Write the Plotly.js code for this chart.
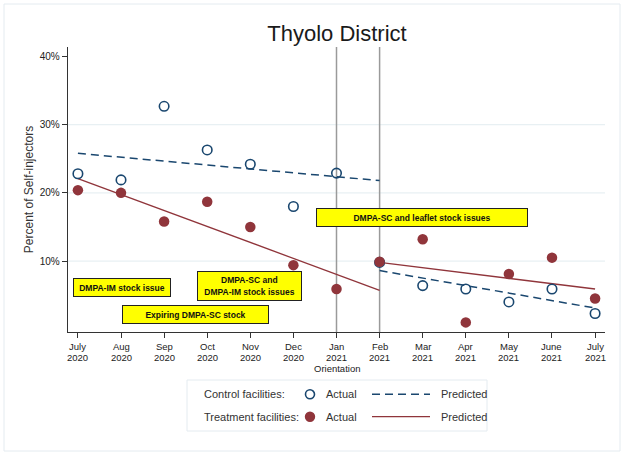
<!DOCTYPE html>
<html><head><meta charset="utf-8">
<script src="https://cdn.plot.ly/plotly-3.0.1.min.js"></script>
<style>html,body{margin:0;padding:0;background:#fff;}#chart{width:625px;height:456px;}</style>
</head><body><div id="chart"></div>
<script>
// ---- data ----
const monthNames = ["July","Aug","Sep","Oct","Nov","Dec","Jan","Feb","Mar","Apr","May","June","July"];
const yearNames  = ["2020","2020","2020","2020","2020","2020","2021","2021","2021","2021","2021","2021","2021"];
const extraLabel = ["","","","","","","Orientation","","","","","",""];
const monthIdx = [0,1,2,3,4,5,6,7,8,9,10,11,12];
const controlActual   = [22.8, 21.9, 32.7, 26.3, 24.2, 18.0, 22.9, 9.8, 6.4, 5.9, 4.0, 5.9, 2.3];
const treatmentActual = [20.4, 20.0, 15.8, 18.7, 15.0, 9.4, 5.9, 9.9, 13.2, 1.0, 8.1, 10.5, 4.5];
const prePeriodX  = [0, 7];
const postPeriodX = [7, 12];
const controlPredPre    = [25.8, 21.8];
const controlPredPost   = [8.6, 3.1];
const treatmentPredPre  = [22.1, 5.7];
const treatmentPredPost = [9.8, 5.9];
const eventLinesX = [6, 7];
const yTicks = [10, 20, 30, 40];
const yTickText = ["10%", "20%", "30%", "40%"];
const gridY = [10, 20, 30];
const notes = [
  {text: "DMPA-IM stock issue", x: 1.02, y: 6.06, w: 98, h: 19},
  {text: "Expiring DMPA-SC stock", x: 2.72, y: 2.17, w: 147, h: 19},
  {text: "DMPA-SC and<br>DMPA-IM stock issues", x: 3.97, y: 6.32, w: 105, h: 30},
  {text: "DMPA-SC and leaflet stock issues", x: 7.99, y: 16.35, w: 212, h: 19}
];

const NAVY = "#1a476f", MAROON = "#90353b";
const L = 68, R = 605, T = 47, B = 332;
const px = v => (v - L) / (R - L);
const py = v => (B - v) / (B - T);
const FONT = "Arial, Liberation Sans, sans-serif";

const traces = [
  {x: prePeriodX, y: controlPredPre, mode: "lines", line: {color: NAVY, width: 1.5, dash: "8px,5px"}, hoverinfo: "skip"},
  {x: postPeriodX, y: controlPredPost, mode: "lines", line: {color: NAVY, width: 1.5, dash: "8px,5px"}, hoverinfo: "skip"},
  {x: prePeriodX, y: treatmentPredPre, mode: "lines", line: {color: MAROON, width: 1.3}, hoverinfo: "skip"},
  {x: postPeriodX, y: treatmentPredPost, mode: "lines", line: {color: MAROON, width: 1.3}, hoverinfo: "skip"},
  {x: monthIdx, y: controlActual, mode: "markers", marker: {symbol: "circle-open", size: 9.5, color: NAVY, line: {width: 1.6, color: NAVY}}},
  {x: monthIdx, y: treatmentActual, mode: "markers", marker: {symbol: "circle", size: 10.5, color: MAROON}}
];

const shapes = [];
shapes.push({type: "rect", xref: "paper", yref: "paper", x0: px(4), x1: px(620), y0: py(4), y1: py(451), line: {color: "#e4ebf0", width: 1}, layer: "below"});
gridY.forEach(g => shapes.push({type: "line", xref: "paper", yref: "y", x0: 0, x1: 1, y0: g, y1: g, line: {color: "#e8f0f3", width: 1.2}, layer: "below"}));
eventLinesX.forEach(e => shapes.push({type: "line", xref: "x", yref: "paper", x0: e, x1: e, y0: 0, y1: 1, line: {color: "#9a9a9a", width: 1.5}, layer: "below"}));
shapes.push({type: "rect", xref: "paper", yref: "paper", x0: px(187), x1: px(487), y0: py(380), y1: py(431), line: {color: "#e4ebf0", width: 1}});
const r1 = 394.3, r2 = 416.7;
shapes.push({type: "circle", xref: "paper", yref: "paper", x0: px(310 - 4.5), x1: px(310 + 4.5), y0: py(r1 + 4.5), y1: py(r1 - 4.5), line: {color: NAVY, width: 1.6}});
shapes.push({type: "circle", xref: "paper", yref: "paper", x0: px(310 - 5.2), x1: px(310 + 5.2), y0: py(r2 + 5.2), y1: py(r2 - 5.2), fillcolor: MAROON, line: {color: MAROON, width: 0}});
shapes.push({type: "line", xref: "paper", yref: "paper", x0: px(372), x1: px(430), y0: py(r1), y1: py(r1), line: {color: NAVY, width: 1.5, dash: "8px,5px"}});
shapes.push({type: "line", xref: "paper", yref: "paper", x0: px(372), x1: px(430), y0: py(r2), y1: py(r2), line: {color: MAROON, width: 1.3}});

const annFont = {family: FONT, size: 11, color: "#333"};
const annotations = [];
notes.forEach(n => annotations.push({
  x: n.x, y: n.y, xref: "x", yref: "y", text: "<b>" + n.text + "</b>", showarrow: false,
  bgcolor: "#ffff00", bordercolor: "#222", borderwidth: 1, borderpad: 0,
  width: n.w - 2, height: n.h - 2, align: "center", valign: "middle",
  font: {family: "Liberation Sans, Arial, sans-serif", size: 8.5, color: "#111"}
}));
[["Control facilities:", 202, r1], ["Treatment facilities:", 202, r2], ["Actual", 324, r1], ["Actual", 324, r2], ["Predicted", 439, r1], ["Predicted", 439, r2]].forEach(a => annotations.push({
  x: px(a[1]), y: py(a[2]), xref: "paper", yref: "paper", text: a[0], showarrow: false,
  xanchor: "left", yanchor: "middle", font: annFont
}));
// x tick labels (tight line spacing as in the reference)
const tickFont = {family: FONT, size: 9.5, color: "#222"};
monthIdx.forEach(i => {
  [[monthNames[i], 346.8], [yearNames[i], 357.8], [extraLabel[i], 368.8]].forEach(t => {
    if (!t[0]) return;
    annotations.push({x: i, xref: "x", y: py(t[1]), yref: "paper", text: t[0], showarrow: false,
      xanchor: "center", yanchor: "middle", borderpad: 0, font: tickFont});
  });
});

const layout = {
  width: 625, height: 456,
  margin: {l: L, r: 625 - R, t: T, b: 456 - B},
  paper_bgcolor: "#fff", plot_bgcolor: "#fff",
  showlegend: false,
  title: {text: "Thyolo District", x: px(337), xref: "paper", xanchor: "center", y: 1 - 33 / 456, yanchor: "middle",
          font: {family: FONT, size: 22, color: "#1a1a1a"}},
  xaxis: {range: [-0.23, 12.23], tickvals: monthIdx, ticktext: monthIdx.map(() => ""), showgrid: false, zeroline: false,
          showline: true, linecolor: "#333", linewidth: 1.3, ticks: "outside", ticklen: 5, tickcolor: "#333"},
  yaxis: {range: [-0.41, 41.4], tickvals: yTicks, ticktext: yTickText, showgrid: false, zeroline: false,
          showline: true, linecolor: "#333", linewidth: 1.3, ticks: "outside", ticklen: 5, tickcolor: "#333",
          tickfont: {family: FONT, size: 10, color: "#222"},
          title: {text: "Percent of Self-injectors", standoff: 3, font: {family: FONT, size: 12, color: "#333"}}},
  shapes: shapes,
  annotations: annotations
};
Plotly.newPlot("chart", traces, layout, {staticPlot: true});
</script></body></html>
